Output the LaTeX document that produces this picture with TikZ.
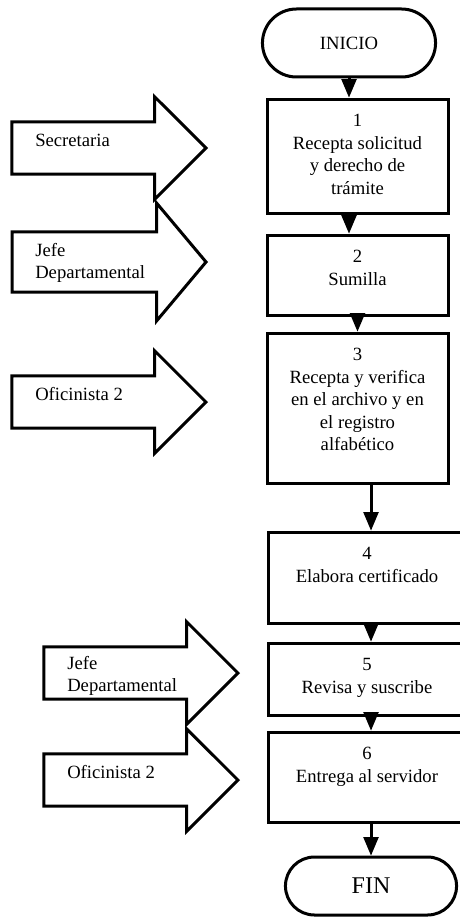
\documentclass[tikz,border=0pt]{standalone}
\usepackage{fontspec}
\setmainfont{Liberation Serif}
\usepackage{tikz}
\usetikzlibrary{positioning,shapes,arrows}
\tikzstyle{paso}=[rectangle,draw,line width=2.25pt,minimum width=135.75pt]
\tikzstyle{pasob}=[rectangle,draw,line width=2.25pt,minimum width=148.5pt]
\tikzstyle{terminal}=[rounded rectangle,draw,line width=2.25pt,font=\fontsize{14}{16.9}\selectfont]
\tikzstyle{rol}=[single arrow,draw,line width=2.25pt,fill=white,inner sep=0pt,inner ysep=18.4pt,anchor=tip,minimum height=145.5pt,single arrow head extend=19pt]
\tikzstyle{texto}=[align=center,inner sep=0pt,anchor=north,font=\fontsize{14}{16.9}\selectfont]
\tikzstyle{rotulo}=[align=left,inner sep=0pt,anchor=west,font=\fontsize{14}{16.5}\selectfont]

\begin{document}
\begin{tikzpicture}[x=0.75pt,y=-0.75pt]
  \useasboundingbox (0,0) rectangle (460,917);

  \node[terminal,minimum width=136.5pt,minimum height=51pt] (inicio) at (349,43) {INICIO};
  \node[paso,minimum height=85.5pt] (b1) at (357.5,156) {};
  \node[paso,minimum height=60pt] (b2) at (357.5,275) {};
  \node[paso,minimum height=112.5pt] (b3) at (357.5,408) {};
  \node[pasob,minimum height=68.25pt] (b4) at (367,577.5) {};
  \node[pasob,minimum height=54pt] (b5) at (367,679) {};
  \node[pasob,minimum height=67.5pt] (b6) at (367,777) {};
  \node[terminal,minimum width=135pt,minimum height=43.5pt,font=\fontsize{18}{21}\selectfont] (fin) at (371,886) {FIN};

  \node[texto] (t1) at ([yshift=-12.4pt]b1.north) {1\\Recepta solicitud\\y derecho de\\trámite};
  \node[texto] (t2) at ([yshift=-12.4pt]b2.north) {2\\Sumilla};
  \node[texto] (t3) at ([yshift=-12.4pt]b3.north) {3\\Recepta y verifica\\en el archivo y en\\el registro\\alfabético};
  \node[texto] (t4) at ([yshift=-12.4pt]b4.north) {4\\Elabora certificado};
  \node[texto] (t5) at ([yshift=-12.4pt]b5.north) {5\\Revisa y suscribe};
  \node[texto] (t6) at ([yshift=-12.4pt]b6.north) {6\\Entrega al servidor};

  \node[rol] (r1) at (208,148) {};
  \node[rol,inner ysep=21.4pt,single arrow head extend=21.75pt,single arrow tip angle=100] (r2) at (208,262) {};
  \node[rol] (r3) at (208,402) {};
  \node[rol] (r4) at (240,673) {};
  \node[rol] (r5) at (240,780) {};

  \node[rotulo] (l1) at (35,140) {Secretaria};
  \node[rotulo] (l2) at (35,263) {Jefe\\Departamental};
  \node[rotulo] (l3) at (35,394) {Oficinista 2};
  \node[rotulo] (l4) at (67,676) {Jefe\\Departamental};
  \node[rotulo] (l5) at (67,772) {Oficinista 2};

  \draw[style={->,>=triangle 45},line width=2.25pt] (inicio.south) to (inicio.south |- b1.north);
  \draw[style={->,>=triangle 45},line width=2.25pt] (b1.south -| inicio) to (b2.north -| inicio);
  \draw[style={->,>=triangle 45},line width=2.25pt] (b2.south) to (b3.north);
  \draw[style={->,>=triangle 45},line width=2.25pt] (b3.south -| fin) to (b4.north -| fin);
  \draw[style={->,>=triangle 45},line width=2.25pt] (b4.south -| fin) to (b5.north -| fin);
  \draw[style={->,>=triangle 45},line width=2.25pt] (b5.south -| fin) to (b6.north -| fin);
  \draw[style={->,>=triangle 45},line width=2.25pt] (b6.south -| fin) to (fin.north);

\end{tikzpicture}
\end{document}
